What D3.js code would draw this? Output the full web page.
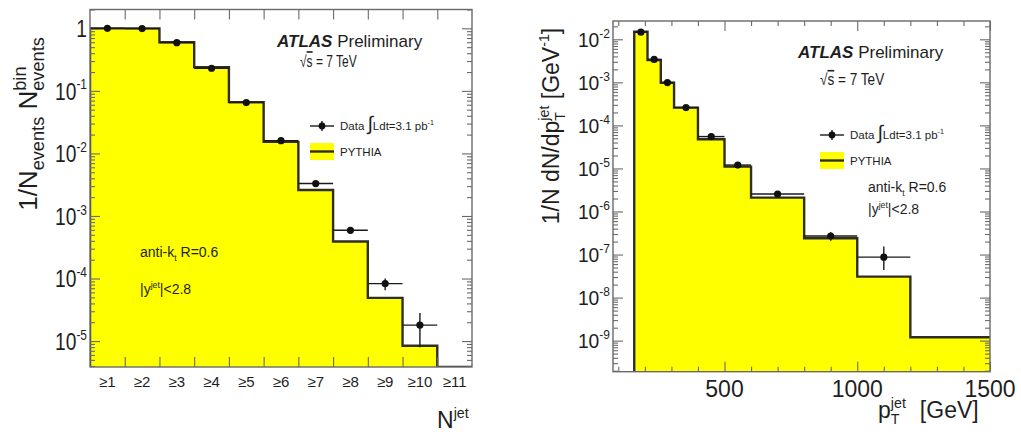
<!DOCTYPE html>
<html>
<head>
<meta charset="utf-8">
<script src="https://cdn.jsdelivr.net/npm/d3@7"></script>
<style>
  body { margin: 0; background: #fff; }
  svg { display: block; }
  text { font-family: "Liberation Sans", Arial, sans-serif; fill: #1e1e1e; }
</style>
</head>
<body>
<svg id="chart" width="1021" height="437"></svg>
<script>
// ---- left: jet multiplicity ----
const njetLabels = ["≥1", "≥2", "≥3", "≥4", "≥5", "≥6", "≥7", "≥8", "≥9", "≥10", "≥11"];
const njetPythia = [1.0, 1.0, 0.60, 0.24, 0.066, 0.0153, 0.0026, 3.9e-4, 4.9e-5, 8.4e-6, 1e-6];
const njetData   = [1.0, 0.99, 0.59, 0.23, 0.065, 0.016, 0.0033, 5.9e-4, 8.3e-5, 1.8e-5];
const njetDataLo = [0.98, 0.97, 0.58, 0.225, 0.063, 0.0152, 0.0031, 5.4e-4, 6.5e-5, 8.0e-6];
const njetDataHi = [1.02, 1.01, 0.60, 0.235, 0.067, 0.0168, 0.0035, 6.4e-4, 1.0e-4, 2.8e-5];
const njetYTicks = [1, 1e-1, 1e-2, 1e-3, 1e-4, 1e-5];

// ---- right: jet pT ----
const ptEdges  = [160, 210, 260, 310, 400, 500, 600, 800, 1000, 1200, 1500];
const ptPythia = [0.015, 0.0033, 9.8e-4, 2.58e-4, 4.76e-5, 1.1e-5, 2.1e-6, 2.4e-7, 3.07e-8, 1.2e-9];
const ptData   = [0.0146, 0.0034, 9.9e-4, 2.6e-4, 5.5e-5, 1.2e-5, 2.55e-6, 2.7e-7, 8.7e-8];
const ptDataLo = [0.014, 0.0032, 9.4e-4, 2.5e-4, 5.2e-5, 1.1e-5, 2.3e-6, 2.1e-7, 4.4e-8];
const ptDataHi = [0.0152, 0.0036, 1.04e-3, 2.7e-4, 5.8e-5, 1.3e-5, 2.8e-6, 3.3e-7, 1.54e-7];
const ptYTicks = [1e-2, 1e-3, 1e-4, 1e-5, 1e-6, 1e-7, 1e-8, 1e-9];
const ptXTicks = [500, 1000, 1500];

const svg = d3.select("#chart");
svg.append("rect").attr("width", 1021).attr("height", 437).attr("fill", "#fff");

const frameColor = "#6a6a6a";
const histColor = "#2e2e24";

// text with super/subscripts built from tspans
function richText(parent, x, y, o, parts) {
    const size = o.size;
    const small = o.small || 0.62;
    let tr = "translate(" + x + "," + y + ")";
    if (o.rotate) tr += " rotate(" + o.rotate + ")";
    if (o.sx) tr += " scale(" + o.sx + ",1)";
    const t = parent.append("g").attr("transform", tr)
        .append("text")
        .attr("font-size", size)
        .attr("text-anchor", o.anchor || "start");
    let shift = 0, prev = null;
    parts.forEach(function (p) {
        if (typeof p === "string") p = {t: p};
        const k = p.k || "n";
        const target = k === "sup" ? -0.42 * size : k === "sub" ? 0.28 * size : 0;
        const ts = t.append("tspan").attr("dy", (target - shift).toFixed(2)).text(p.t);
        if (k === "sup" || k === "sub") ts.attr("font-size", size * small);
        if (k === "big") ts.attr("font-size", size * 1.7);
        if (p.style) ts.attr("style", p.style);
        if (p.back && prev) ts.attr("dx", -prev.node().getComputedTextLength());
        if (p.dx) ts.attr("dx", p.dx);
        shift = target;
        prev = ts;
    });
    return t;
}

function logTicks(y) {
    const d = y.domain();
    const lo = Math.floor(Math.log10(Math.min(d[0], d[1])));
    const hi = Math.ceil(Math.log10(Math.max(d[0], d[1])));
    const major = [], minor = [];
    for (let e = lo; e <= hi; e++) {
        const b = Math.pow(10, e);
        if (b >= d[0] && b <= d[1]) major.push(b);
        for (let m = 2; m <= 9; m++) {
            if (m * b >= d[0] && m * b <= d[1]) minor.push(m * b);
        }
    }
    return {major, minor};
}

function drawPanel(p) {
    const x = p.x, y = p.y;
    const x0 = x.range()[0], x1 = x.range()[1];
    const yb = y.range()[0], yt = y.range()[1];
    const g = svg.append("g");

    g.append("clipPath").attr("id", p.id + "-clip")
        .append("rect").attr("x", x0).attr("y", yt).attr("width", x1 - x0).attr("height", yb - yt);
    const plot = g.append("g").attr("clip-path", "url(#" + p.id + "-clip)");

    // histogram (MC)
    const n = p.mc.length;
    const pts = [[p.edges[0], y.domain()[0]]]
        .concat(p.mc.map((v, i) => [p.edges[i], v]))
        .concat([[p.edges[n], p.mc[n - 1]]]);
    plot.append("path").datum(pts)
        .attr("d", d3.area().curve(d3.curveStepAfter)
            .x(d => x(d[0])).y0(yb).y1(d => y(d[1])))
        .attr("fill", "#ffff00");
    plot.append("path").datum(pts)
        .attr("d", d3.line().curve(d3.curveStepAfter)
            .x(d => x(d[0])).y(d => y(d[1])))
        .attr("fill", "none").attr("stroke", histColor).attr("stroke-width", 2.4);

    // axes: ROOT style, ticks inside on all four sides
    const lt = logTicks(y);
    function tickAxis(axis, tr, vals, size) {
        const a = g.append("g").attr("transform", tr)
            .call(axis.tickValues(vals).tickSize(-size).tickFormat(""));
        a.select(".domain").remove();
        a.selectAll("line").attr("stroke", frameColor).attr("stroke-width", 1.1);
    }
    tickAxis(d3.axisLeft(y), "translate(" + x0 + ",0)", lt.major, 10);
    tickAxis(d3.axisLeft(y), "translate(" + x0 + ",0)", lt.minor, 5);
    tickAxis(d3.axisRight(y), "translate(" + x1 + ",0)", lt.major, 10);
    tickAxis(d3.axisRight(y), "translate(" + x1 + ",0)", lt.minor, 5);
    tickAxis(d3.axisBottom(x), "translate(0," + yb + ")", p.xMajor, 10);
    tickAxis(d3.axisTop(x), "translate(0," + yt + ")", p.xMajor, 10);
    if (p.xMinor) {
        tickAxis(d3.axisBottom(x), "translate(0," + yb + ")", p.xMinor, 5);
        tickAxis(d3.axisTop(x), "translate(0," + yt + ")", p.xMinor, 5);
    }

    // data points
    const pd = g.append("g");
    p.data.forEach(function (v, i) {
        const xa = x(p.edges[i]), xb = x(p.edges[i + 1]), xc = (xa + xb) / 2;
        pd.append("line").attr("x1", xa).attr("x2", xb).attr("y1", y(v)).attr("y2", y(v))
            .attr("stroke", "#1a1a1a").attr("stroke-width", 1.4);
        pd.append("line").attr("x1", xc).attr("x2", xc).attr("y1", y(p.lo[i])).attr("y2", y(p.hi[i]))
            .attr("stroke", "#1a1a1a").attr("stroke-width", 1.4);
        pd.append("circle").attr("cx", xc).attr("cy", y(v)).attr("r", 3.6).attr("fill", "#111");
    });

    // frame
    g.append("rect").attr("x", x0).attr("y", yt).attr("width", x1 - x0).attr("height", yb - yt)
        .attr("fill", "none").attr("stroke", frameColor).attr("stroke-width", 1.4);

    // y tick labels
    p.yLabels.forEach(function (v) {
        const e = Math.round(Math.log10(v));
        const parts = e === 0 ? ["1"] : ["10", {t: String(e), k: "sup"}];
        richText(g, x0 - 3, y(v) + p.yLabelSize * 0.36, {size: p.yLabelSize, anchor: "end", sx: p.yLabelSx}, parts);
    });
    return g;
}

function legend(g, lx, ly, size) {
    // data entry
    g.append("line").attr("x1", lx).attr("x2", lx + 24).attr("y1", ly).attr("y2", ly)
        .attr("stroke", "#1a1a1a").attr("stroke-width", 1.4);
    g.append("line").attr("x1", lx + 12).attr("x2", lx + 12).attr("y1", ly - 5).attr("y2", ly + 5)
        .attr("stroke", "#1a1a1a").attr("stroke-width", 1.4);
    g.append("circle").attr("cx", lx + 12).attr("cy", ly).attr("r", 3.4).attr("fill", "#111");
    richText(g, lx + 30, ly + 4, {size: size},
        ["Data ", {t: "∫", k: "big"}, "Ldt=3.1 pb", {t: "-1", k: "sup"}]);
    // MC entry
    g.append("rect").attr("x", lx).attr("y", ly + 17).attr("width", 24).attr("height", 17).attr("fill", "#ffff00");
    g.append("line").attr("x1", lx).attr("x2", lx + 24).attr("y1", ly + 25.5).attr("y2", ly + 25.5)
        .attr("stroke", histColor).attr("stroke-width", 2.4);
    richText(g, lx + 30, ly + 29.5, {size: size}, ["PYTHIA"]);
}

// ================= left panel =================
const xN = d3.scaleLinear().domain([0, njetLabels.length]).range([90, 472]);
const yN = d3.scaleLog().domain([3.85e-6, 2]).range([367, 9.5]).clamp(true);
const gL = drawPanel({
    id: "njet", x: xN, y: yN,
    edges: d3.range(njetLabels.length + 1),
    mc: njetPythia, data: njetData, lo: njetDataLo, hi: njetDataHi,
    xMajor: d3.range(1, njetLabels.length),
    yLabels: njetYTicks, yLabelSize: 24, yLabelSx: 0.8
});
njetLabels.forEach(function (s, i) {
    gL.append("text").attr("x", xN(i + 0.5)).attr("y", 387).attr("font-size", 15)
        .attr("text-anchor", "middle").text(s);
});
richText(gL, 437, 428, {size: 23}, ["N", {t: "jet", k: "sup"}]);
richText(gL, 37, 124, {size: 26, small: 0.7, rotate: -90, anchor: "middle"},
    ["1/N", {t: "events", k: "sub"}, " N", {t: "events", k: "sub"}, {t: "bin", k: "sup", back: true}]);
richText(gL, 277, 47, {size: 17},
    [{t: "ATLAS", style: "font-weight:bold;font-style:italic"}, "  Preliminary"]);
richText(gL, 300, 67, {size: 16, sx: 0.75}, ["√", {t: "s", style: "text-decoration:overline"}, " = 7 TeV"]);
legend(gL, 310, 126, 11.5);
richText(gL, 140, 257, {size: 14}, ["anti-k", {t: "t", k: "sub"}, " R=0.6"]);
richText(gL, 140, 294, {size: 14}, ["|y", {t: "jet", k: "sup"}, "|<2.8"]);

// ================= right panel =================
const xP = d3.scaleLinear().domain([80, 1500]).range([613, 990]);
const yP = d3.scaleLog().domain([1.9e-10, 0.0266]).range([371.7, 21]).clamp(true);
const gR = drawPanel({
    id: "pt", x: xP, y: yP,
    edges: ptEdges,
    mc: ptPythia, data: ptData, lo: ptDataLo, hi: ptDataHi,
    xMajor: ptXTicks,
    xMinor: d3.range(100, 1500, 100).filter(v => v % 500 !== 0),
    yLabels: ptYTicks, yLabelSize: 21, yLabelSx: 0.92
});
ptXTicks.forEach(function (v) {
    gR.append("text").attr("x", xP(v)).attr("y", 397).attr("font-size", 23)
        .attr("text-anchor", "middle").text(v);
});
richText(gR, 878, 418, {size: 23}, ["p", {t: "T", k: "sub"}, {t: "jet", k: "sup", back: true}, {t: "[GeV]", dx: 14}]);
richText(gR, 559, 126, {size: 23, rotate: -90, anchor: "middle"},
    ["1/N dN/dp", {t: "T", k: "sub"}, {t: "jet", k: "sup", back: true}, " [GeV", {t: "-1", k: "sup"}, "]"]);
richText(gR, 798, 58, {size: 17},
    [{t: "ATLAS", style: "font-weight:bold;font-style:italic"}, "  Preliminary"]);
richText(gR, 820, 85, {size: 16, sx: 0.85}, ["√", {t: "s", style: "text-decoration:overline"}, " = 7 TeV"]);
legend(gR, 820, 135, 11.5);
richText(gR, 868, 192, {size: 14}, ["anti-k", {t: "t", k: "sub"}, " R=0.6"]);
richText(gR, 868, 214, {size: 14}, ["|y", {t: "jet", k: "sup"}, "|<2.8"]);
</script>
</body>
</html>
